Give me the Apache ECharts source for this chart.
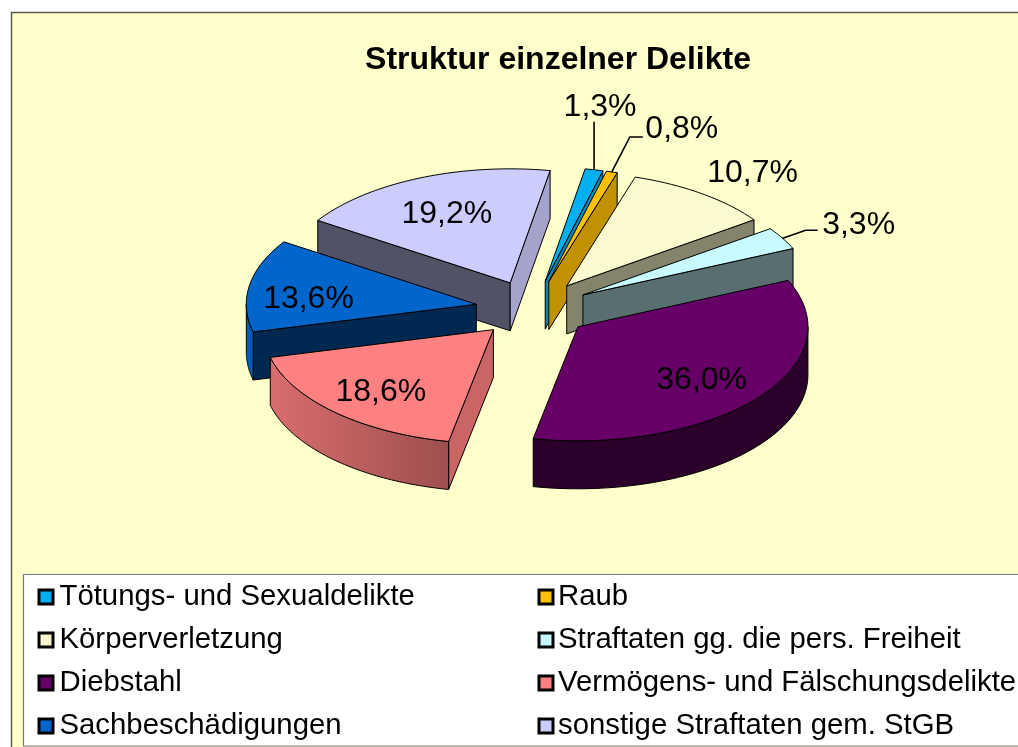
<!DOCTYPE html>
<html>
<head>
<meta charset="utf-8">
<style>html,body{margin:0;padding:0;background:#fff}#c{width:1018px;height:747px}</style>
<script src="https://cdn.jsdelivr.net/npm/echarts@6/dist/echarts.min.js"></script>
</head>
<body>
<div id="c"></div>
<script>
const categories = ['Tötungs- und Sexualdelikte','Raub','Körperverletzung','Straftaten gg. die pers. Freiheit','Diebstahl','Vermögens- und Fälschungsdelikte','Sachbeschädigungen','sonstige Straftaten gem. StGB'];
const values = [1.3,0.8,10.7,3.3,36.0,18.6,13.6,19.2];
const valueLabels = ['1,3%','0,8%','10,7%','3,3%','36,0%','18,6%','13,6%','19,2%'];
const colors = ['#00B0F0','#FFC000','#FBFBCF','#C8FBFF','#660066','#FF8080','#0066CC','#CCCCFF'];

// paint order, back to front
const paintOrder = [7,0,1,2,3,6,5,4];
// projection of the 3D pie
const FONT = '"Liberation Sans", Arial, sans-serif';
const CX = 533, CY = 309, RX = 230, RY = 114, DEPTH = 48, EXPLODE = 0.25, START = 10;
// label offset from the slice's rim midpoint, and leader elbow offsets where a leader exists
const labelOffset = [[6,-63],[70,-43],[51,-20],[76,-13],[-56,-18],[46,-20],[59,14],[28,36]];
const leaderPath = {0:[[0,-48]],1:[[18,-35],[31,-35]],3:[[23,-8],[35,-8]]};
// rim shade [left,right]
const rimShade = {4:[.42,.42],5:[.85,.62],6:[.9,.9]};

const total = values.reduce((a,b)=>a+b,0);
const rad = d => d*Math.PI/180;
const slices = [];
let acc = 0;
values.forEach(v=>{const a0=START+acc/total*360;acc+=v;const a1=START+acc/total*360;slices.push({a0,a1,mid:(a0+a1)/2});});

function shadeColor(hex,f){
  const n=parseInt(hex.slice(1),16);
  const c=[(n>>16)&255,(n>>8)&255,n&255].map(x=>Math.round(x*f));
  return 'rgb('+c.join(',')+')';
}
function wallShade(n){
  const t=[[90,.85],[100,.8],[144,.53],[156,.44],[166,.4],[270,.4]];
  for(let i=1;i<t.length;i++){ if(n<=t[i][0]){const p=(n-t[i-1][0])/(t[i][0]-t[i-1][0]);return t[i-1][1]+p*(t[i][1]-t[i-1][1]);} }
  return .4;
}
const norm = d => ((d%360)+360)%360;

function renderSlice(i){
  const s=slices[i], col=colors[i], order=paintOrder.indexOf(i);
  const ox=CX+EXPLODE*RX*Math.sin(rad(s.mid)), oy=CY-EXPLODE*RY*Math.cos(rad(s.mid));
  const P=(a,dz)=>[ox+RX*Math.sin(rad(a)), oy-RY*Math.cos(rad(a))+(dz||0)];
  const kids=[]; let z=order*10+1;
  const strokeStyle={stroke:'#000',lineWidth:1,lineJoin:'round'};
  const wall=(a,n)=>{
    if(Math.cos(rad(n))>=0) return;
    kids.push({type:'polygon',z2:z++,shape:{points:[[ox,oy],P(a),P(a,DEPTH),[ox,oy+DEPTH]]},
      style:Object.assign({fill:shadeColor(col,wallShade(norm(n)))},strokeStyle)});
  };
  wall(s.a0,s.a0-90);
  wall(s.a1,s.a1+90);
  const r0=Math.max(s.a0,90), r1=Math.min(s.a1,270);
  if(r1>r0){
    const top=[],bot=[];
    for(let k=0;k<=60;k++){const a=r0+(r1-r0)*k/60;top.push(P(a));bot.unshift(P(a,DEPTH));}
    const pts=top.concat(bot);
    const xs=pts.map(p=>p[0]);
    const sh=rimShade[i]||[.8,.8];
    const fill=new echarts.graphic.LinearGradient(Math.min(...xs),0,Math.max(...xs),0,
      [{offset:0,color:shadeColor(col,sh[0])},{offset:1,color:shadeColor(col,sh[1])}],true);
    kids.push({type:'polygon',z2:z++,shape:{points:pts},style:Object.assign({fill},strokeStyle)});
  }
  const face=[[ox,oy]];
  const n=Math.max(4,Math.ceil(s.a1-s.a0));
  for(let k=0;k<=n;k++) face.push(P(s.a0+(s.a1-s.a0)*k/n));
  kids.push({type:'polygon',z2:z++,shape:{points:face},style:Object.assign({fill:col},strokeStyle)});
  // label and leader hang from the rim midpoint of the slice
  const m=P(s.mid);
  const off=labelOffset[i];
  kids.push({type:'text',z2:1000,x:m[0]+off[0],y:m[1]+off[1],
    style:{text:valueLabels[i],fill:'#000',font:'32px '+FONT,align:'center',verticalAlign:'middle'}});
  if(leaderPath[i]){
    const pl=[m].concat(leaderPath[i].map(d=>[m[0]+d[0],m[1]+d[1]]));
    kids.push({type:'polyline',z2:999,shape:{points:pl},style:{stroke:'#000',lineWidth:1.6,fill:null}});
  }
  return {type:'group',children:kids};
}

const legendItem = i => ({name:categories[i],icon:'rect',itemStyle:{color:colors[i],borderColor:'#000',borderWidth:3}});
const legendBase = {orient:'vertical',top:582,padding:0,itemWidth:14,itemHeight:14,itemGap:13,selectedMode:false};
const legendText = pad => ({fontFamily:FONT,fontSize:29.33,color:'#000',lineHeight:30,padding:[0,0,0,pad]});

const chart = echarts.init(document.getElementById('c'),null,{renderer:'canvas'});
chart.setOption({
  animation:false,
  backgroundColor:'#fff',
  title:{text:'Struktur einzelner Delikte',left:558,top:44,textAlign:'center',padding:0,
    textStyle:{fontFamily:FONT,fontSize:32,fontWeight:'bold',color:'#000'}},
  legend:[
    Object.assign({},legendBase,{left:37.5,textStyle:legendText(1.5),data:[0,2,4,6].map(legendItem)}),
    Object.assign({},legendBase,{left:537.5,textStyle:legendText(0),data:[1,3,5,7].map(legendItem)})
  ],
  graphic:[
    {type:'rect',z:-10,shape:{x:11.5,y:12.5,width:1040,height:760},style:{fill:'#FFFFCC',stroke:'#5c5c44',lineWidth:1.5},silent:true},
    {type:'rect',z:-9,shape:{x:23.5,y:574.5,width:1040,height:171.5},style:{fill:'#fff',stroke:'#777',lineWidth:1.2},silent:true}
  ],
  series:paintOrder.map(i=>({
    type:'custom',name:categories[i],coordinateSystem:'none',silent:true,
    data:[[values[i]]],
    renderItem:()=>renderSlice(i)
  }))
});
</script>
</body>
</html>
